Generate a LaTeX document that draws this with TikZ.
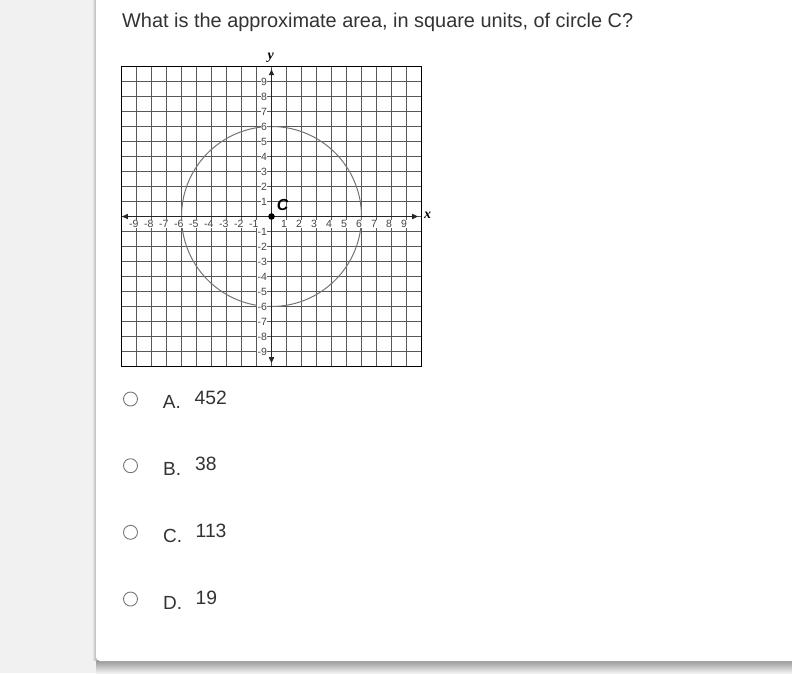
\documentclass[tikz,border=0pt]{standalone}
\usepackage{fontspec}
\setmainfont{Liberation Sans}
\newfontfamily\axisfont{Liberation Serif}
\usetikzlibrary{arrows.meta}
\definecolor{bgc}{HTML}{F1F1F1}
\definecolor{txt}{HTML}{333333}
\definecolor{gridc}{HTML}{585858}
\definecolor{lblc}{HTML}{454545}
\definecolor{radioc}{HTML}{777777}
\tikzset{
  gridline/.style={draw=gridc, line width=1.6pt},
  framebox/.style={draw=black, line width=1.8pt},
  axisline/.style={draw=black!85, line width=1.7pt, -{Triangle[length=6pt,width=5pt]}},
  ticklbl/.style={font=\fontsize{10.5}{10.5}\selectfont, text=lblc, fill=white, inner sep=0.3pt},
  radio/.style={circle, draw=radioc, line width=0.9pt, minimum size=14pt, inner sep=0pt},
  optletter/.style={anchor=base west, text=txt, font=\fontsize{19}{22}\selectfont, inner sep=0pt},
  optnum/.style={anchor=base west, text=txt, font=\fontsize{19.3}{22}\selectfont, inner sep=0pt},
}
\begin{document}
\begin{tikzpicture}[x=1pt, y=-1pt]
\useasboundingbox (0,0) rectangle (792,673);
% background and card
\fill[bgc] (0,0) rectangle (792,673);
\shade[top color=black!45, bottom color=bgc] (96,659) rectangle (792,673);
\shade[left color=bgc, right color=black!35] (92,0) rectangle (97,660);
\fill[white, rounded corners=4pt] (96,-10) rectangle (800,661);
% title
\node[anchor=base west, text=txt, font=\fontsize{19.9}{22}\selectfont, inner sep=0pt] (title) at (122,27.5) {What is the approximate area, in square units, of circle C?};
% graph
\begin{scope}[shift={(271.5,216.5)}, x=15pt, y=15pt]
  \foreach \k in {-9,...,9} {
    \draw[gridline] (\k,-10) -- (\k,10);
    \draw[gridline] (-10,\k) -- (10,\k);
  }
  \draw[draw=black!55, line width=1pt] (0,0) circle [radius=6];
  \foreach \i in {-9,...,-1} {
    \node[ticklbl, anchor=east] (xl\i) at (\i+0.17,-0.5) {-\the\numexpr-\i\relax};
  }
  \foreach \i in {1,...,9} {
    \node[ticklbl, anchor=east] (xl\i) at (\i+0.07,-0.5) {\i};
  }
  \foreach \i in {1,...,9} {
    \node[ticklbl, anchor=east] (yl\i) at (-0.27,\i) {\i};
  }
  \foreach \i in {-9,...,-1} {
    \node[ticklbl, anchor=east] (yl\i) at (-0.27,\i) {-\the\numexpr-\i\relax};
  }
  \coordinate (xL) at (-9.97,0);
  \coordinate (xR) at (9.78,0);
  \coordinate (yT) at (0,9.82);
  \coordinate (yB) at (0,-9.78);
  \draw[axisline] (0,0) -- (xL);
  \draw[axisline] (0,0) -- (xR);
  \draw[axisline] (0,0) -- (yT);
  \draw[axisline] (0,0) -- (yB);
  \draw[framebox] (-10,-10) rectangle (10,10);
  \fill[black] (0,0) circle [radius=3.3pt];
  \node[font=\fontsize{16}{16}\selectfont\bfseries\itshape, inner sep=0pt] (C) at (0.75,0.75) {C};
  \node[font=\axisfont\fontsize{14}{14}\selectfont\bfseries\itshape, inner sep=0pt] (xlab) at (10.4,0.05) {x};
  \node[font=\axisfont\fontsize{14}{14}\selectfont\bfseries\itshape, inner sep=0pt] (ylab) at (-0.05,10.6) {y};
\end{scope}
% options
\node[radio] (rA) at (130.5,399) {};
\node[radio] (rB) at (130.5,465.7) {};
\node[radio] (rC) at (130.5,532.3) {};
\node[radio] (rD) at (130.5,599) {};
\node[optletter] (lA) at (162.7,408) {A.};
\node[optletter] (lB) at (163,475) {B.};
\node[optletter] (lC) at (163,542) {C.};
\node[optletter] (lD) at (163,609) {D.};
\node[optnum] (nA) at (194.5,404) {452};
\node[optnum] (nB) at (195,470.7) {38};
\node[optnum] (nC) at (195.5,537.7) {113};
\node[optnum] (nD) at (195.5,604) {19};
\end{tikzpicture}
\end{document}
